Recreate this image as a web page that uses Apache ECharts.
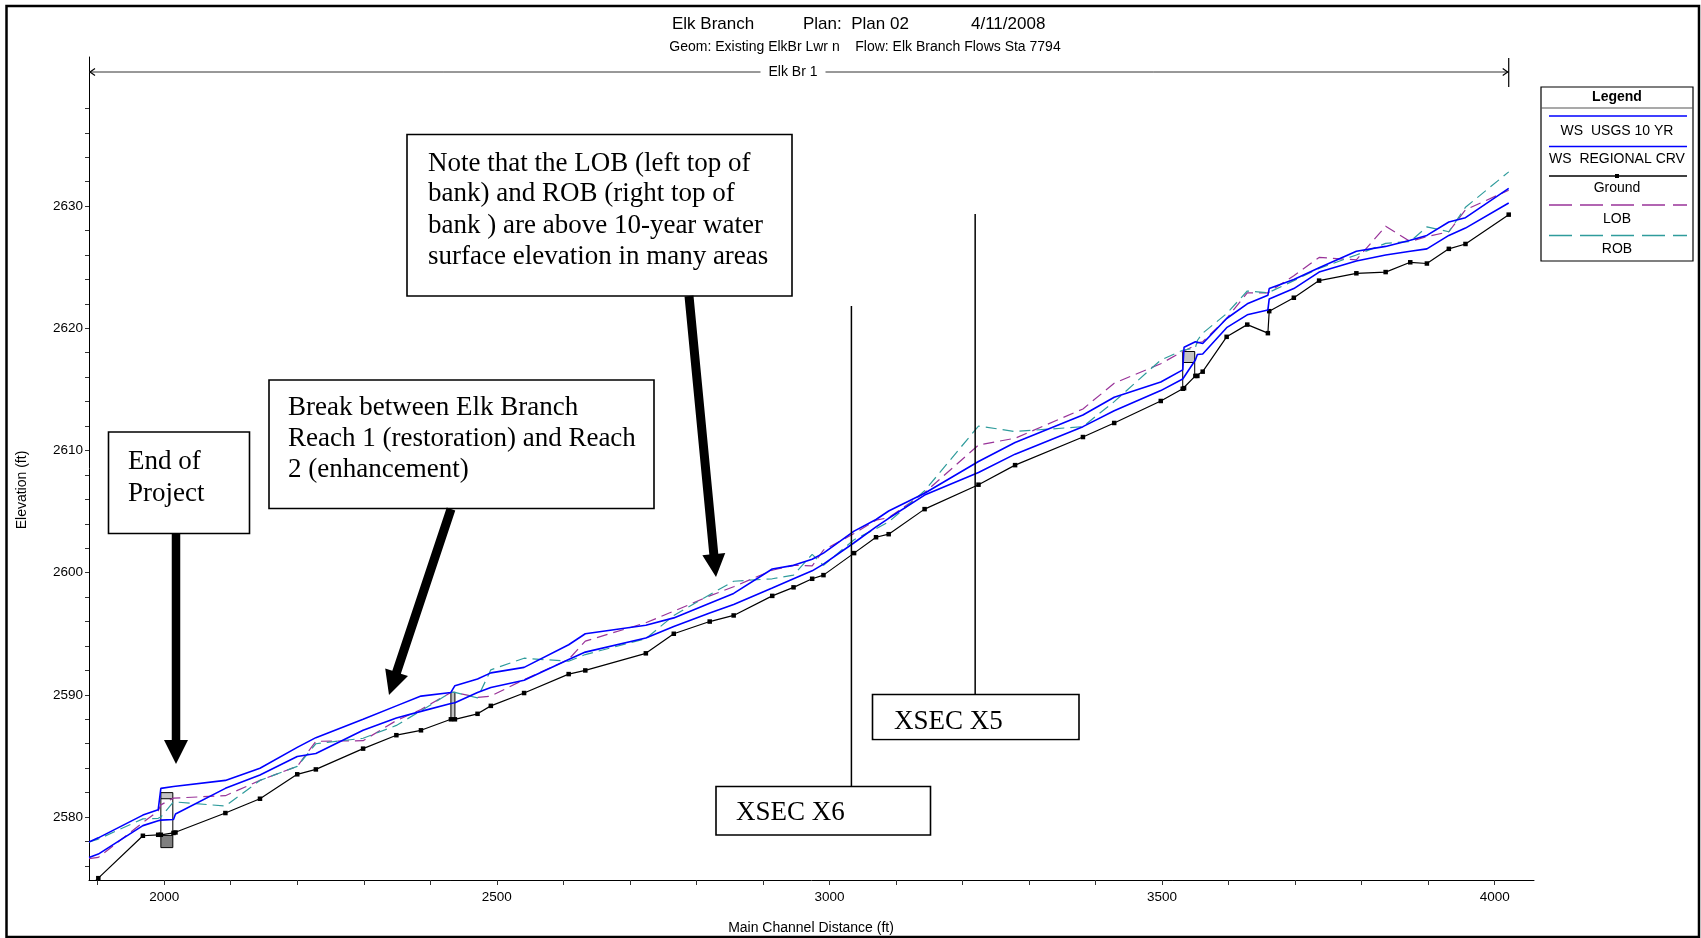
<!DOCTYPE html>
<html>
<head>
<meta charset="utf-8">
<script src="https://cdn.jsdelivr.net/npm/echarts@6/dist/echarts.min.js"></script>
<style>
html,body{margin:0;padding:0;background:#fff;}
#c{width:1701px;height:938px;}
</style>
</head>
<body>
<div id="c"></div>
<script>
// ---- data (main channel distance, ft / elevation, ft) ----
const stations  = [1887,1901,1968,1991,1995,2014,2017,2092,2144,2200,2228,2299,2349,2386,2431,2437,2471,2491,2541,2608,2633,2724,2766,2820,2856,2914,2946,2974,2991,3037,3070,3089,3143,3224,3279,3381,3428,3498,3531,3533,3550,3553,3561,3597,3628,3659,3661,3698,3736,3792,3836,3873,3898,3931,3956,4021];
const ground    = [2574.3,2575.0,2578.47,2578.55,2578.55,2578.7,2578.74,2580.33,2581.5,2583.5,2583.9,2585.6,2586.7,2587.1,2588.0,2588.0,2588.45,2589.1,2590.15,2591.7,2592.0,2593.4,2595.0,2596.0,2596.5,2598.1,2598.8,2599.5,2599.8,2601.6,2602.9,2603.15,2605.2,2607.2,2608.8,2611.1,2612.25,2614.05,2615.05,2615.1,2616.1,2616.1,2616.45,2619.3,2620.3,2619.6,2621.4,2622.5,2623.9,2624.5,2624.6,2625.4,2625.3,2626.5,2626.9,2629.3];
const wsUsgs10  = [2576.7,2576.97,2579.3,2579.7,2579.75,2579.8,2580.25,2582.35,2583.45,2584.95,2585.2,2587.1,2588.1,2588.65,2589.3,2589.35,2590.2,2590.6,2591.2,2592.9,2593.5,2594.65,2595.6,2596.7,2597.4,2598.75,2599.5,2600.15,2600.7,2602.45,2603.75,2604.45,2606.35,2608.2,2609.7,2611.95,2613.25,2614.9,2615.85,2616.0,2617.4,2617.85,2617.9,2620.05,2621.1,2621.5,2622.4,2623.25,2624.6,2625.5,2626.0,2626.3,2626.5,2627.6,2628.2,2630.25];
const wsRegional= [2577.96,2578.3,2580.16,2580.6,2582.35,2582.5,2582.5,2583.0,2584.0,2585.7,2586.5,2588.0,2589.1,2589.9,2590.2,2590.75,2591.3,2591.8,2592.25,2594.1,2595.0,2595.7,2596.3,2597.5,2598.3,2600.3,2600.6,2601.1,2601.6,2603.4,2604.35,2605.05,2606.5,2609.1,2610.65,2612.9,2614.35,2615.6,2616.6,2618.45,2618.9,2618.75,2618.75,2620.8,2622.0,2622.7,2623.25,2624.0,2624.95,2626.3,2626.7,2627.2,2627.6,2628.7,2629.05,2631.45];
const lob       = [2576.6,2576.7,2579.55,2580.5,2581.0,2581.55,2581.55,2581.75,2583.0,2584.15,2586.2,2586.25,2587.9,2588.8,2590.2,2590.2,2589.8,2589.9,2591.25,2592.9,2594.4,2595.9,2596.85,2598.1,2598.85,2600.2,2600.6,2600.55,2601.85,2603.2,2604.3,2604.5,2606.55,2610.45,2611.0,2613.4,2615.5,2617.1,2618.1,2618.2,2618.6,2618.8,2618.9,2620.8,2622.9,2622.9,2623.0,2624.3,2625.8,2625.6,2628.35,2627.1,2627.5,2627.9,2629.7,2631.3];
const rob       = [2577.96,2578.2,2579.85,2579.9,2580.0,2581.25,2581.2,2580.9,2583.0,2584.15,2586.0,2586.45,2587.5,2588.7,2590.2,2590.2,2589.75,2592.05,2593.0,2592.75,2593.3,2594.6,2596.5,2598.2,2599.3,2599.5,2599.8,2601.5,2600.6,2602.7,2603.6,2604.15,2606.7,2612.0,2611.55,2611.95,2614.0,2617.4,2618.2,2618.3,2618.4,2619.0,2619.6,2621.2,2623.05,2622.9,2623.0,2623.9,2624.9,2626.0,2626.95,2627.1,2628.3,2627.9,2629.9,2632.8];

// bridges: left, right, high chord, low chord, left base, right base, footing bottom
const bridgeLeft   = [1995, 2431, 3531];
const bridgeRight  = [2013, 2437, 3549];
const bridgeHigh   = [2582.0, 2590.2, 2618.1];
const bridgeLow    = [2581.5, 2587.95, 2617.2];
const bridgeBaseL  = [2578.5, 2588.0, 2615.05];
const bridgeBaseR  = [2578.5, 2588.0, 2616.1];
const bridgeFoot   = [2577.5, null, null];

const xTickValues  = [1900,2000,2100,2200,2300,2400,2500,2600,2700,2800,2900,3000,3100,3200,3300,3400,3500,3600,3700,3800,3900,4000];
const xLabelValues = [2000,2500,3000,3500,4000];
const yTickValues  = [2576,2578,2580,2582,2584,2586,2588,2590,2592,2594,2596,2598,2600,2602,2604,2606,2608,2610,2612,2614,2616,2618,2620,2622,2624,2626,2628,2630,2632,2634,2636,2638];
const yLabelValues = [2580,2590,2600,2610,2620,2630];
const xsecStations = [3033, 3219];
const xsecNames    = ['XSEC X6', 'XSEC X5'];

const pair = (ys) => stations.map((x, i) => [x, ys[i]]);
const bridgeData = bridgeLeft.map((l, i) => [l, bridgeRight[i], bridgeHigh[i], bridgeLow[i], bridgeBaseL[i], bridgeBaseR[i], bridgeFoot[i]]);

const SANS = '"Liberation Sans", Arial, sans-serif';
const SERIF = '"Liberation Serif", "Times New Roman", serif';
const BLUE = '#0000ff', LOBC = '#993399', ROBC = '#2f9c9c';

const chart = echarts.init(document.getElementById('c'), null, {renderer: 'canvas'});

const option = {
  animation: false,
  backgroundColor: '#fff',
  grid: {left: 89, right: 167, top: 57, bottom: 58, containLabel: false, outerBoundsMode: 'none'},
  xAxis: {
    type: 'value', min: 1887, max: 4059,
    axisLine: {show: true, onZero: false, lineStyle: {color: '#000', width: 1}},
    axisTick: {show: true, length: 5, lineStyle: {color: '#333'}, customValues: xTickValues},
    axisLabel: {fontFamily: SANS, fontSize: 13.5, color: '#000', margin: 10, customValues: xLabelValues,
                formatter: v => String(v)},
    splitLine: {show: false}
  },
  yAxis: {
    type: 'value', min: 2574.85, max: 2642.2,
    axisLine: {show: true, onZero: false, lineStyle: {color: '#000', width: 1}},
    axisTick: {show: true, length: 4, lineStyle: {color: '#333'}, customValues: yTickValues},
    axisLabel: {fontFamily: SANS, fontSize: 13.5, color: '#000', margin: 6, customValues: yLabelValues,
                formatter: v => String(v)},
    splitLine: {show: false}
  },
  series: [
    {
      type: 'custom', name: 'Bridges', clip: true, z: 1,
      data: bridgeData,
      renderItem: function (params, api) {
        const l = api.value(0), r = api.value(1), hi = api.value(2), lo = api.value(3);
        const bl = api.value(4), br = api.value(5), fb = api.value(6);
        const p = (x, y) => api.coord([x, y]);
        const ch = [
          {type: 'polygon', shape: {points: [p(l, hi), p(r, hi), p(r, lo), p(l, lo)]},
           style: {fill: '#c4c4c4', stroke: '#000', lineWidth: 1}},
          {type: 'line', shape: {x1: p(l, lo)[0], y1: p(l, lo)[1], x2: p(l, bl)[0], y2: p(l, bl)[1]},
           style: {stroke: '#000', lineWidth: 1}},
          {type: 'line', shape: {x1: p(r, lo)[0], y1: p(r, lo)[1], x2: p(r, br)[0], y2: p(r, br)[1]},
           style: {stroke: '#000', lineWidth: 1}}
        ];
        if (!isNaN(fb)) {
          ch.push({type: 'polygon', shape: {points: [p(l, bl), p(r, br), p(r, fb), p(l, fb)]},
                   style: {fill: '#808080', stroke: '#000', lineWidth: 1}});
        }
        return {type: 'group', children: ch};
      }
    },
    {
      name: 'Ground', type: 'line', data: pair(ground), z: 3,
      lineStyle: {color: '#000', width: 1.2},
      itemStyle: {color: '#000'},
      symbol: 'rect', symbolSize: 4.5, showAllSymbol: true, clip: true
    },
    {
      name: 'LOB', type: 'line', data: pair(lob), z: 2, symbol: 'none', clip: true,
      lineStyle: {color: LOBC, width: 1.2, type: [11, 6]}
    },
    {
      name: 'ROB', type: 'line', data: pair(rob), z: 2, symbol: 'none', clip: true,
      lineStyle: {color: ROBC, width: 1.2, type: [11, 6]}
    },
    {
      name: 'WS  USGS 10 YR', type: 'line', data: pair(wsUsgs10), z: 4, symbol: 'none', clip: true,
      lineStyle: {color: BLUE, width: 1.6}
    },
    {
      name: 'WS  REGIONAL CRV', type: 'line', data: pair(wsRegional), z: 4, symbol: 'none', clip: true,
      lineStyle: {color: BLUE, width: 1.6}
    }
  ]
};
chart.setOption(option);

// ---- annotation graphics ----
function arrowPts(x0, y0, x1, y1, w, hl, hw) {
  const dx = x1 - x0, dy = y1 - y0, L = Math.hypot(dx, dy);
  const ux = dx / L, uy = dy / L, px = -uy, py = ux;
  const bx = x1 - ux * hl, by = y1 - uy * hl;
  return [
    [x0 + px * w / 2, y0 + py * w / 2], [bx + px * w / 2, by + py * w / 2], [bx + px * hw, by + py * hw],
    [x1, y1],
    [bx - px * hw, by - py * hw], [bx - px * w / 2, by - py * w / 2], [x0 - px * w / 2, y0 - py * w / 2]
  ];
}
const T = (text, x, y, font, opts) => Object.assign({type: 'text', z: 100,
  style: Object.assign({text: text, x: x, y: y, font: font, fill: '#000', align: 'left', verticalAlign: 'middle'}, opts || {})});
const R = (x, y, w, h, lw, fill, z) => ({type: 'rect', z: z || 90, shape: {x: x, y: y, width: w, height: h},
  style: {fill: fill || '#fff', stroke: '#000', lineWidth: lw}});
const Ln = (x1, y1, x2, y2, color, lw, dash, z) => ({type: 'line', z: z || 95, shape: {x1: x1, y1: y1, x2: x2, y2: y2},
  style: {stroke: color, lineWidth: lw, lineDash: dash || null}});

const g = [];
const NOTE = '27px ' + SERIF;
// outer frame
g.push({type: 'rect', z: 200, shape: {x: 6.5, y: 6, width: 1692.5, height: 931}, style: {fill: null, stroke: '#000', lineWidth: 2.5}});
// title
g.push(T('Elk Branch', 672, 24, '17px ' + SANS));
g.push(T('Plan:  Plan 02', 803, 24, '17px ' + SANS));
g.push(T('4/11/2008', 971, 24, '17px ' + SANS));
g.push(T('Geom: Existing ElkBr Lwr n    Flow: Elk Branch Flows Sta 7794', 865, 47, '14px ' + SANS, {align: 'center'}));
// axis names
g.push({type: 'text', z: 100, x: 22, y: 490, rotation: Math.PI / 2,
  style: {text: 'Elevation (ft)', font: '14px ' + SANS, fill: '#000', align: 'center', verticalAlign: 'middle'}});
g.push(T('Main Channel Distance (ft)', 811, 928, '14px ' + SANS, {align: 'center'}));

// reach line
const rx0 = chart.convertToPixel({gridIndex: 0}, [stations[0], 2600])[0];
const rx1 = chart.convertToPixel({gridIndex: 0}, [stations[stations.length - 1], 2600])[0];
const ry = 72;
g.push(Ln(rx0, ry, rx1, ry, '#333', 1));
g.push({type: 'polyline', z: 95, shape: {points: [[rx0 + 6, ry - 3.5], [rx0 + 1, ry], [rx0 + 6, ry + 3.5]]}, style: {stroke: '#000', lineWidth: 1.2, fill: null}});
g.push({type: 'polyline', z: 95, shape: {points: [[rx1 - 6, ry - 3.5], [rx1 - 1, ry], [rx1 - 6, ry + 3.5]]}, style: {stroke: '#000', lineWidth: 1.2, fill: null}});
g.push(Ln(rx1, 58, rx1, 87, '#000', 1.2));
g.push(T('Elk Br 1', 793, ry, '14px ' + SANS, {align: 'center', backgroundColor: '#fff', padding: [0, 8]}));

// cross-section lines and labels
const xs6 = chart.convertToPixel({gridIndex: 0}, [xsecStations[0], 2600])[0];
const xs5 = chart.convertToPixel({gridIndex: 0}, [xsecStations[1], 2600])[0];
g.push(Ln(xs6, 306, xs6, 787, '#000', 1.5, null, 96));
g.push(Ln(xs5, 214, xs5, 695, '#000', 1.5, null, 96));
g.push(R(872.5, 694.5, 206.5, 45, 1.6));
g.push(T(xsecNames[1], 894, 722, NOTE));
g.push({type: 'rect', z: 101, shape: {x: 874, y: 729, width: 203, height: 9.5}, style: {fill: '#fff'}});
g.push(R(716, 786.5, 214.5, 48.5, 1.6));
g.push(T(xsecNames[0], 736, 813, NOTE));

// annotation boxes
g.push(R(108.5, 432, 141, 101.5, 1.6));
g.push(T('End of', 128, 462, NOTE));
g.push(T('Project', 128, 494, NOTE));
g.push(R(269, 380, 385, 128.5, 1.6));
g.push(T('Break between Elk Branch', 288, 408, NOTE));
g.push(T('Reach 1 (restoration) and Reach', 288, 439, NOTE));
g.push(T('2 (enhancement)', 288, 470, NOTE));
g.push(R(407, 134.5, 385, 161.5, 1.6));
g.push(T('Note that the LOB (left top of', 428, 164, NOTE));
g.push(T('bank) and ROB (right top of', 428, 194, NOTE));
g.push(T('bank ) are above 10-year water', 428, 225.5, NOTE));
g.push(T('surface elevation in many areas', 428, 257, NOTE));
// arrows
g.push({type: 'polygon', z: 97, shape: {points: arrowPts(176, 534, 176, 764, 8.5, 24, 12)}, style: {fill: '#000'}});
g.push({type: 'polygon', z: 97, shape: {points: arrowPts(451, 509, 389, 695, 9, 24, 12)}, style: {fill: '#000'}});
g.push({type: 'polygon', z: 97, shape: {points: arrowPts(689, 296, 716, 577, 9, 23, 11.5)}, style: {fill: '#000'}});

// legend
const LX0 = 1541, LX1 = 1693, LC = (LX0 + LX1) / 2;
g.push(R(LX0, 87, LX1 - LX0, 174, 1.2));
g.push(T('Legend', LC, 97, 'bold 14px ' + SANS, {align: 'center'}));
g.push(Ln(LX0, 108, LX1, 108, '#555', 1.2, null, 101));
const legendItems = [
  {name: 'WS  USGS 10 YR', color: BLUE, dash: null, ly: 116, ty: 131},
  {name: 'WS  REGIONAL CRV', color: BLUE, dash: null, ly: 146.5, ty: 159.5},
  {name: 'Ground', color: '#000', dash: null, ly: 176, ty: 188.5},
  {name: 'LOB', color: LOBC, dash: [23, 8], ly: 205, ty: 219.5},
  {name: 'ROB', color: ROBC, dash: [23, 8], ly: 235.5, ty: 249}
];
legendItems.forEach(it => {
  g.push(Ln(1549, it.ly, 1687, it.ly, it.color, 1.3, it.dash, 101));
  g.push(T(it.name, LC, it.ty, '14px ' + SANS, {align: 'center'}));
});
g.push({type: 'rect', z: 102, shape: {x: LC - 2, y: 174, width: 4, height: 4}, style: {fill: '#000'}});

chart.setOption({graphic: g});
</script>
</body>
</html>
